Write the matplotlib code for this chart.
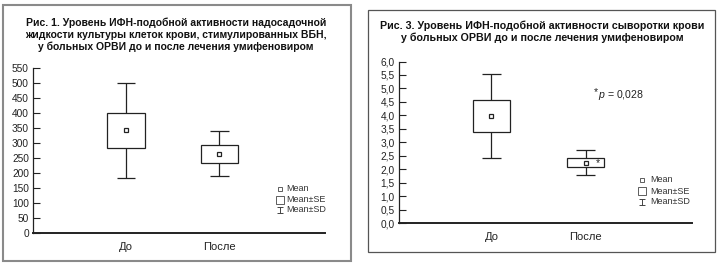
import matplotlib
matplotlib.use("Agg")
from matplotlib import pyplot as plt
from matplotlib import font_manager
from matplotlib.patches import Rectangle
from matplotlib.lines import Line2D
from matplotlib.path import Path
from matplotlib.ticker import FuncFormatter

# data
groups = ['До', 'После']

culture_mean = [346, 266]
culture_se_lo = [285, 236]
culture_se_hi = [401, 296]
culture_sd_lo = [185, 190]
culture_sd_hi = [502, 342]

serum_mean = [3.97, 2.25]
serum_se_lo = [3.39, 2.07]
serum_se_hi = [4.56, 2.43]
serum_sd_lo = [2.43, 1.78]
serum_sd_hi = [5.55, 2.73]

title_1 = ('Рис. 1. Уровень ИФН-подобной активности надосадочной\n'
           'жидкости культуры клеток крови, стимулированных ВБН,\n'
           'у больных ОРВИ до и после лечения умифеновиром')
title_3 = ('Рис. 3. Уровень ИФН-подобной активности сыворотки крови\n'
           'у больных ОРВИ до и после лечения умифеновиром')
legend_labels = ['Mean', 'Mean±SE', 'Mean±SD']

names = {f.name for f in font_manager.fontManager.ttflist}
title_font = 'Liberation Sans Narrow' if 'Liberation Sans Narrow' in names else 'Liberation Sans'
plt.rcParams['font.family'] = ['Liberation Sans', 'DejaVu Sans']
plt.rcParams['mathtext.fontset'] = 'custom'
plt.rcParams['mathtext.it'] = 'Liberation Sans:italic'
plt.rcParams['mathtext.rm'] = 'Liberation Sans'

W, H = 720, 265
fig = plt.figure(figsize=(W / 100, H / 100), dpi=100)
ink = '#222222'


def fx(x):
    return x / W


def fy(y):
    return 1 - y / H


def panel(x0, y0, x1, y1, color, lw):
    fig.add_artist(Rectangle((fx(x0), fy(y1)), fx(x1 - x0), (y1 - y0) / H,
                             transform=fig.transFigure, fill=False,
                             edgecolor=color, linewidth=lw))


def box_plot(ax, mean, se_lo, se_hi, sd_lo, sd_hi, box_w=0.4, cap_w=0.2):
    for i in range(len(mean)):
        x = i + 1
        ax.add_patch(Rectangle((x - box_w / 2, se_lo[i]), box_w, se_hi[i] - se_lo[i],
                               fill=False, edgecolor=ink, linewidth=0.9))
        ax.vlines(x, se_hi[i], sd_hi[i], color=ink, linewidth=0.9)
        ax.vlines(x, sd_lo[i], se_lo[i], color=ink, linewidth=0.9)
        ax.hlines([sd_lo[i], sd_hi[i]], x - cap_w / 2, x + cap_w / 2, color=ink, linewidth=0.9)
        ax.plot(x, mean[i], marker='s', markersize=3.3, markerfacecolor='white',
                markeredgecolor=ink, markeredgewidth=0.9, linestyle='none')


def style_axes(ax):
    for s in ('top', 'right'):
        ax.spines[s].set_visible(False)
    ax.spines['left'].set_linewidth(0.9)
    ax.spines['bottom'].set_linewidth(1.4)
    ax.spines['left'].set_color(ink)
    ax.spines['bottom'].set_color(ink)
    ax.tick_params(axis='y', direction='in', length=5, width=0.8, labelsize=7.3,
                   pad=3, colors=ink)
    ax.tick_params(axis='x', length=0, labelsize=8, pad=6, colors=ink)
    ax.set_xticks([1, 2])
    ax.set_xticklabels(groups)


ibeam = Path([(-1, 1), (1, 1), (0, 1), (0, -1), (-1, -1), (1, -1)],
             [Path.MOVETO, Path.LINETO, Path.MOVETO, Path.LINETO, Path.MOVETO, Path.LINETO])


def legend(x_mark, x_text, ys):
    styles = [dict(marker='s', markersize=2.4, markerfacecolor='white', markeredgewidth=0.6),
              dict(marker='s', markersize=5.2, markerfacecolor='white', markeredgewidth=0.6),
              dict(marker=ibeam, markersize=4.4, markeredgewidth=0.7)]
    for y, lab, st in zip(ys, legend_labels, styles):
        fig.add_artist(Line2D([fx(x_mark)], [fy(y)], transform=fig.transFigure,
                              color='#444444', markeredgecolor='#444444', linestyle='none', **st))
        fig.text(fx(x_text), fy(y), lab, fontsize=6.5, color='#333333', va='center', ha='left')


# panel borders
panel(3, 5, 351, 261, '#8a8a8a', 1.5)
panel(368, 10, 715, 252, '#555555', 0.9)

# left chart
ax1 = fig.add_axes([fx(33), fy(233.3), (325 - 33) / W, (233.3 - 68.3) / H])
box_plot(ax1, culture_mean, culture_se_lo, culture_se_hi, culture_sd_lo, culture_sd_hi)
ax1.set_xlim(0.005, 3.13)
ax1.set_ylim(0, 550)
ax1.set_yticks(range(0, 551, 50))
style_axes(ax1)
fig.text(fx(176), fy(35), title_1, fontsize=7.45, fontweight='bold', family=title_font,
         ha='center', va='center', linespacing=1.22, color='#111111')
legend(279.5, 286, [188.5, 199.5, 210])

# right chart
ax2 = fig.add_axes([fx(399), fy(223.3), (692 - 399) / W, (223.3 - 61.5) / H])
box_plot(ax2, serum_mean, serum_se_lo, serum_se_hi, serum_sd_lo, serum_sd_hi)
ax2.set_xlim(0.018, 3.13)
ax2.set_ylim(0, 6)
ax2.set_yticks([i * 0.5 for i in range(13)])
ax2.yaxis.set_major_formatter(FuncFormatter(lambda v, p: f'{v:.1f}'.replace('.', ',')))
style_axes(ax2)
ax2.text(2.126, serum_mean[1], '*', fontsize=7.5, ha='center', va='center', color=ink)
ax2.text(2.085, 4.85, '*', fontsize=7.5, ha='left', va='center', color=ink)
ax2.text(2.13, 4.75, r'$\mathit{p}$ = 0,028', fontsize=7.6, ha='left', va='center', color=ink)
fig.text(fx(542), fy(31.7), title_3, fontsize=7.65, fontweight='bold', family=title_font,
         ha='center', va='center', linespacing=1.22, color='#111111')
legend(642, 650, [180, 191, 201.5])

fig.savefig('out.png', dpi=100)
